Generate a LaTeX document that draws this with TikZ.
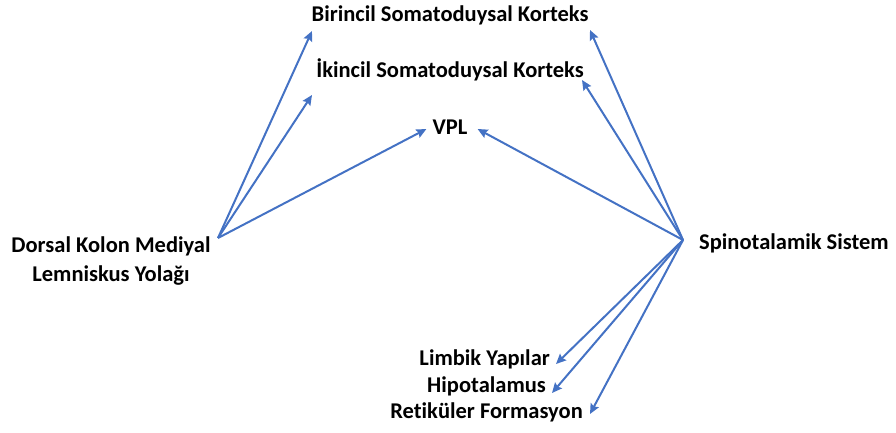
\documentclass[tikz,border=0pt]{standalone}
\usepackage{fontspec}
\setmainfont[Ligatures=NoCommon]{Carlito}
\usetikzlibrary{arrows.meta}
\definecolor{okblue}{RGB}{68,114,196}
\begin{document}
\begin{tikzpicture}[x=1pt,y=-1pt,
    lbl/.style={font=\bfseries\fontsize{22.5}{29}\selectfont, inner sep=0pt},
    yol/.style={draw=okblue, line width=2pt, -{Stealth[length=10pt,width=9pt,inset=1.5pt]}}]
    \useasboundingbox (0,0) rectangle (896,433);

    % Targets
    \node[lbl] (birincil) at (450,15) {Birincil Somatoduysal Korteks};
    \node[lbl] (ikincil) at (450,70) {İkincil Somatoduysal Korteks};
    \node[lbl] (vpl) at (450,127) {VPL};
    \node[lbl, anchor=east] (limbik) at (550,359) {Limbik Yapılar};
    \node[lbl, anchor=east] (hipo) at (546,386) {Hipotalamus};
    \node[lbl, anchor=east] (retik) at (583,412) {Retiküler Formasyon};

    % Sources
    \node[lbl, align=center] (dorsal) at (111,261) {Dorsal Kolon Mediyal\\Lemniskus Yolağı};
    \node[lbl, anchor=west] (spino) at (699,243) {Spinotalamik Sistem};
    \coordinate (dk) at (218,238);
    \coordinate (st) at (683,240);

    % Arrow ends
    \coordinate (b1) at (312,31);
    \coordinate (b2) at (590,30);
    \coordinate (i1) at (312,95);
    \coordinate (i2) at (582,80);

    % Dorsal Kolon
    \draw[yol] (dk) -- (b1);
    \draw[yol] (dk) -- (i1);
    \draw[yol] (dk) -- ([xshift=-6pt,yshift=-2pt]vpl.west);

    % Spinotalamik
    \draw[yol] (st) -- (b2);
    \draw[yol] (st) -- (i2);
    \draw[yol] (st) -- ([xshift=10pt,yshift=-2pt]vpl.east);
    \draw[yol] (st) -- ([xshift=6pt,yshift=-5pt]limbik.east);
    \draw[yol] (st) -- ([xshift=6pt,yshift=-7pt]hipo.east);
    \draw[yol] (st) -- ([xshift=7pt,yshift=-2pt]retik.east);

\end{tikzpicture}
\end{document}
